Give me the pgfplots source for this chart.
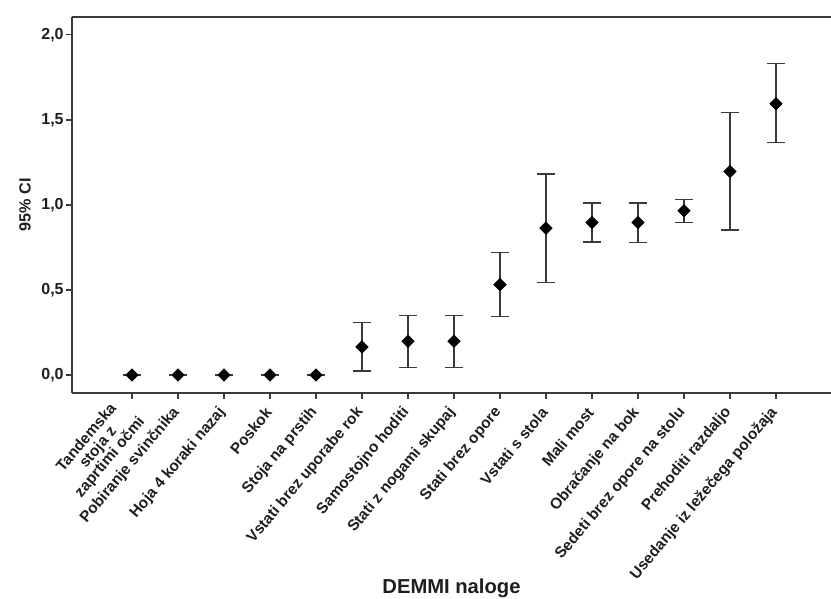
\documentclass[border=0pt]{standalone}
\usepackage{pgfplots}
\pgfplotsset{compat=1.18}
\usepackage{pgfplotstable}
\usepackage{fontspec}
\setmainfont{Liberation Sans}
\definecolor{axgray}{HTML}{3A3A3A}
\definecolor{txt}{HTML}{1E1E1E}

\pgfplotstableread{
x y ep em
0  0.000 0.000 0.000
1  0.000 0.000 0.000
2  0.000 0.000 0.000
3  0.000 0.000 0.000
4  0.000 0.000 0.000
5  0.165 0.142 0.141
6  0.198 0.153 0.153
7  0.198 0.153 0.153
8  0.531 0.189 0.188
9  0.863 0.319 0.320
10 0.896 0.114 0.114
11 0.896 0.114 0.116
12 0.965 0.068 0.069
13 1.196 0.345 0.345
14 1.594 0.235 0.229
}\cidata

\begin{document}
\begin{tikzpicture}
\begin{axis}[
  name=ax,
  scale only axis,
  width=379.5pt, height=188pt,
  xmin=-1.304, xmax=15.196,
  ymin=-0.106, ymax=2.104,
  axis x line=box, axis y line=left,
  axis line style={-, axgray, line width=1pt},
  xtick={0,...,14},
  xtick pos=bottom, ytick pos=left,
  tick align=outside,
  major tick length=3pt,
  tick style={axgray, line width=0.8pt},
  xticklabels={{Tandemska\\stoja z\\zaprtimi očmi},Pobiranje svinčnika,Hoja 4 koraki nazaj,Poskok,Stoja na prstih,Vstati brez uporabe rok,Samostojno hoditi,Stati z nogami skupaj,Stati brez opore,Vstati s stola,Mali most,Obračanje na bok,Sedeti brez opore na stolu,Prehoditi razdaljo,Usedanje iz ležečega položaja},
  xticklabel shift=4.5pt,
  xticklabel style={font=\bfseries\fontsize{7.7}{7.6}\selectfont, text=txt, rotate=50, anchor=east, align=center, inner sep=1pt},
  ytick={0,0.5,1,1.5,2},
  yticklabel style={font=\bfseries\fontsize{8}{9}\selectfont, text=txt, inner xsep=1pt},
  /pgf/number format/.cd, fixed, fixed zerofill, precision=1, use comma, assume math mode=true,
  /pgfplots/.cd,
  every axis x label/.style={at={(rel axis cs:0.5,-0.532)}, anchor=base, font=\bfseries\fontsize{10.1}{12}\selectfont, text=txt},
  every axis y label/.style={at={(rel axis cs:-0.062,0.5)}, rotate=90, anchor=center, font=\bfseries\fontsize{8.1}{9}\selectfont, text=txt},
  xlabel={DEMMI naloge},
  ylabel={95\% CI},
  clip=false,
]
\addplot[
  only marks,
  mark=square*,
  mark size=2.15pt,
  mark options={rotate=45, fill=black, draw=black},
  error bars/.cd,
    y dir=both, y explicit,
    error bar style={axgray, line width=0.7pt},
    error mark options={rotate=90, axgray, mark size=4.5pt, line width=0.7pt},
] table[x=x, y=y, y error plus=ep, y error minus=em] {\cidata};
\end{axis}
\pgfresetboundingbox
\path[use as bounding box] ([xshift=-36pt,yshift=-103pt]ax.south west) rectangle ([yshift=8.5pt]ax.north east);
\end{tikzpicture}
\end{document}
